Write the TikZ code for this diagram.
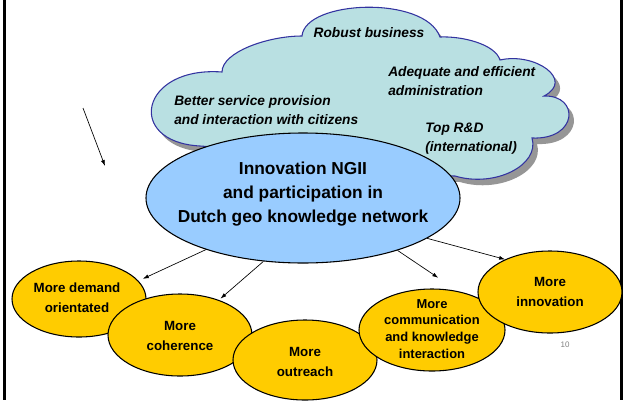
\documentclass[tikz,border=0pt]{standalone}
\usepackage{fontspec}
\setmainfont{Liberation Sans}
\usetikzlibrary{shapes.geometric,arrows.meta}
\definecolor{cloudfill}{RGB}{185,224,226}
\definecolor{cloudline}{RGB}{51,51,160}
\definecolor{cloudshadow}{RGB}{150,150,150}
\definecolor{corefill}{RGB}{153,204,255}
\definecolor{goalfill}{RGB}{255,204,0}
\begin{document}
\begin{tikzpicture}[x=0.75pt,y=-0.75pt,
  oval/.style={ellipse,draw=black,line width=0.8pt,inner sep=0pt},
  goal/.style={oval,fill=goalfill,minimum width=108pt,minimum height=61.5pt},
  goaltext/.style={font=\bfseries\fontsize{10}{15}\selectfont,align=center,inner sep=0pt},
  cloudtext/.style={font=\bfseries\itshape\fontsize{10.3}{14.3}\selectfont,align=left,inner sep=0pt,anchor=west},
  arr/.style={-{Latex[length=4.5pt,width=3pt]},line width=0.5pt}]
\useasboundingbox (0,0) rectangle (623,400);
% frame bars
\fill[black] (3,0) rectangle (5.5,400);
\fill[black] (620,0) rectangle (623,400);
% cloud shadow
\begin{scope}[shift={(5,6)}]
\fill[cloudshadow] (200,146) .. controls (125,142) and (140,66) .. (222,72)
  .. controls (222,52) and (268,36) .. (302,36)
  .. controls (305,0) and (425,-5) .. (440,37)
  .. controls (462,36) and (495,44) .. (500,60)
  .. controls (535,52) and (575,80) .. (544,96)
  .. controls (580,95) and (578,140) .. (532,138)
  .. controls (540,165) and (495,188) .. (455,176)
  .. controls (380,175) and (260,150) .. (200,146) -- cycle;
\end{scope}
% cloud
\draw[cloudline,fill=cloudfill,line width=0.8pt] (200,146) .. controls (125,142) and (140,66) .. (222,72)
  .. controls (222,52) and (268,36) .. (302,36)
  .. controls (305,0) and (425,-5) .. (440,37)
  .. controls (462,36) and (495,44) .. (500,60)
  .. controls (535,52) and (575,80) .. (544,96)
  .. controls (580,95) and (578,140) .. (532,138)
  .. controls (540,165) and (495,188) .. (455,176)
  .. controls (380,175) and (260,150) .. (200,146) -- cycle;
\node[font=\bfseries\itshape\fontsize{10.3}{14.3}\selectfont,inner sep=0pt] (robust) at (369,33) {Robust business};
\node[cloudtext] (admin) at (388,81) {Adequate and efficient\\administration};
\node[cloudtext] (service) at (174,110.5) {Better service provision\\and interaction with citizens};
\node[cloudtext] (rd) at (425,139) {Top R\&D\\(international)};
% central ellipse
\node[oval,fill=corefill,minimum width=235.5pt,minimum height=97.5pt] (c) at (303,198) {};
\node[font=\bfseries\fontsize{13}{18}\selectfont,align=center,inner sep=0pt] (ctext) at (303,194) {Innovation NGII\\and participation in\\Dutch geo knowledge network};
% goal ellipses
\node[goal,minimum width=100.5pt,minimum height=57pt] (e1) at (79,299) {};
\node[goaltext] (t1) at (77,298) {More demand\\orientated};
\node[goal] (e2) at (180,335) {};
\node[goaltext] (t2) at (180,336) {More\\coherence};
\node[goal,minimum height=60pt] (e3) at (305,360) {};
\node[goaltext] (t3) at (305,362) {More\\outreach};
\node[goal,minimum width=109.5pt] (e4) at (432,330) {};
\node[goaltext,font=\bfseries\fontsize{9.7}{12.6}\selectfont] (t4) at (432,329) {More\\communication\\and knowledge\\interaction};
\node[goal] (e5) at (550,292) {};
\node[goaltext] (t5) at (550,292) {More\\innovation};
% arrows
\draw[arr,shorten >=3.5pt] (c.208.6) -- (e1.17.2);
\draw[arr,shorten >=1.5pt] (c.238.2) -- (e2.42.1);
\draw[arr,shorten >=18pt] (c.331) -- (e4.56.3);
\draw[arr] (c.342.1) -- (e5.144);
\coordinate (p0) at (83,108);
\coordinate (p1) at (105,166);
\draw[arr] (p0) -- (p1);
% page number
\node[font=\fontsize{6}{7}\selectfont,text=gray,inner sep=0pt] (pg) at (565,345) {10};
\end{tikzpicture}
\end{document}
